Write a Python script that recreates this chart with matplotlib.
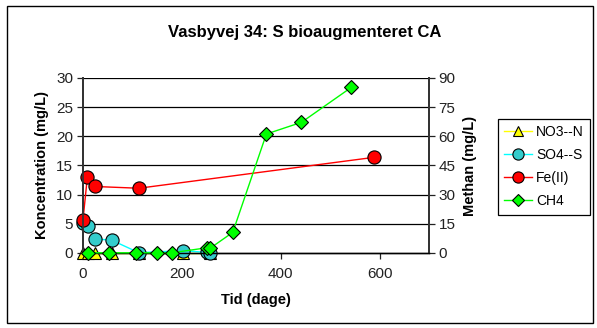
import matplotlib
matplotlib.use("Agg")
import matplotlib.pyplot as plt
from matplotlib.patches import Rectangle

plt.rcParams['font.family'] = ['Liberation Sans', 'DejaVu Sans']

# Data
no3_days = [0, 10, 24, 58, 113, 203, 257]
no3_vals = [0, 0, 0, 0, 0, 0, 0]

so4_days = [0, 10, 24, 58, 113, 203, 250, 257]
so4_vals = [5.1, 4.7, 2.4, 2.2, 0.05, 0.4, 0.1, 0.0]

fe_days = [0, 9, 24, 113, 589]
fe_vals = [5.7, 13.1, 11.4, 11.1, 16.4]

ch4_days = [11, 53, 107, 149, 180, 251, 257, 303, 371, 442, 543]
ch4_vals = [0.1, 0.1, 0.1, 0.1, 0.1, 2.7, 2.4, 10.6, 61.2, 67.2, 85.2]

title = "Vasbyvej 34: S bioaugmenteret CA"
xlabel = "Tid (dage)"
ylabel_left = "Koncentration (mg/L)"
ylabel_right = "Methan (mg/L)"

fig = plt.figure(figsize=(5.97, 3.28), dpi=100)
fig.patches.append(Rectangle((0.012, 0.015), 0.982, 0.968, transform=fig.transFigure,
                             fill=False, edgecolor='black', linewidth=1.0))

ax = fig.add_axes([0.139, 0.2287, 0.5796, 0.5335])
ax2 = ax.twinx()

ax.set_xlim(0, 700)
ax.set_ylim(0, 30)
ax2.set_ylim(0, 90)
ax.set_xticks([0, 200, 400, 600])
ax.set_yticks(range(0, 31, 5))
ax2.set_yticks(range(0, 91, 15))

for y in range(5, 31, 5):
    ax.axhline(y, color='black', linewidth=0.9, zorder=0.5)

for a in (ax, ax2):
    a.spines['top'].set_visible(False)
    a.tick_params(labelsize=11, direction='out', length=4, width=0.9, colors='#222222')
    a.spines['left'].set_linewidth(1.3)
    a.spines['right'].set_linewidth(1.3)
    a.spines['bottom'].set_linewidth(1.0)
    a.spines['left'].set_color('#333333')
    a.spines['right'].set_color('#333333')
ax.tick_params(axis='x', pad=6)
ax.tick_params(axis='y', pad=3)
ax2.tick_params(axis='y', pad=3)

l1, = ax.plot(no3_days, no3_vals, color='#FFFF00', linewidth=1.0, marker='^', markersize=9,
              markerfacecolor='#FFFF00', markeredgecolor='black', markeredgewidth=0.8,
              clip_on=False, zorder=3, label='NO3--N')
l2, = ax.plot(so4_days, so4_vals, color='#00FFFF', linewidth=1.0, marker='o', markersize=9.5,
              markerfacecolor='#33CCCC', markeredgecolor='black', markeredgewidth=0.8,
              clip_on=False, zorder=4, label='SO4--S')
l3, = ax.plot(fe_days, fe_vals, color='#FF0000', linewidth=1.0, marker='o', markersize=9.5,
              markerfacecolor='#FF0000', markeredgecolor='black', markeredgewidth=0.8,
              clip_on=False, zorder=5, label='Fe(II)')
l4, = ax2.plot(ch4_days, ch4_vals, color='#00FF00', linewidth=1.0, marker='D', markersize=7,
               markerfacecolor='#00FF00', markeredgecolor='black', markeredgewidth=0.8,
               clip_on=False, zorder=6, label='CH4')

fig.text(305 / 597, 1 - 33 / 328, title, fontsize=12, fontweight='bold',
         ha='center', va='center')
ax.set_xlabel(xlabel, fontsize=10.5, fontweight='bold', labelpad=9)
ax.set_ylabel(ylabel_left, fontsize=10.5, fontweight='bold', labelpad=5)
ax2.set_ylabel(ylabel_right, fontsize=10.5, fontweight='bold', labelpad=5)

leg = fig.legend([l1, l2, l3, l4], ['NO3--N', 'SO4--S', 'Fe(II)', 'CH4'],
                 loc='upper left', bbox_to_anchor=(498 / 597, 1 - 119 / 328), fontsize=10,
                 frameon=True, fancybox=False, edgecolor='black', framealpha=1,
                 handlelength=2.0, borderpad=0.45, labelspacing=0.65, handletextpad=0.3,
                 borderaxespad=0, markerscale=0.85)
leg.get_frame().set_linewidth(0.9)

fig.savefig('out.png', dpi=100)
